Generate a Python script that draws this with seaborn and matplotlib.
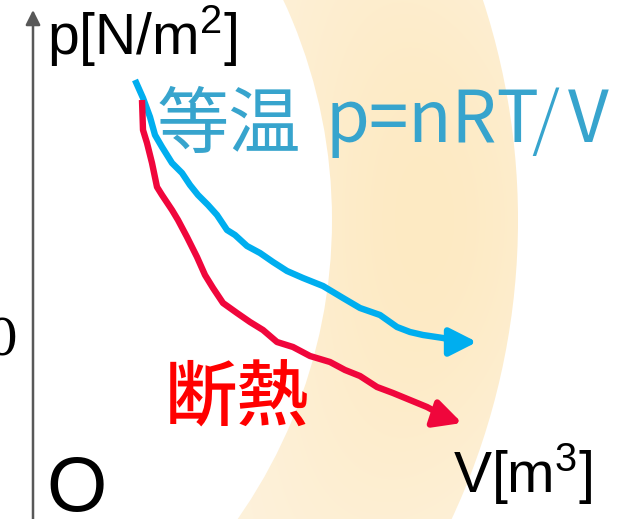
import numpy as np
import pandas as pd
import matplotlib
matplotlib.use("Agg")
import matplotlib.pyplot as plt
from matplotlib.patches import Annulus
import seaborn as sns

# Isothermal expansion path (volume, pressure), arbitrary units
iso_V = [1.02, 1.10, 1.17, 1.22, 1.29, 1.39, 1.49, 1.57, 1.65, 1.75, 1.84, 1.94, 2.02,
         2.14, 2.27, 2.40, 2.54, 2.70, 2.90, 3.10, 3.27, 3.47, 3.64, 3.77, 3.90, 4.10, 4.27]
iso_p = [4.37, 4.19, 4.00, 3.82, 3.70, 3.54, 3.44, 3.32, 3.22, 3.12, 3.02, 2.87, 2.82,
         2.71, 2.64, 2.55, 2.46, 2.39, 2.31, 2.19, 2.09, 2.02, 1.90, 1.85, 1.82, 1.79, 1.75]
iso_tip = (4.44, 1.75)

# Adiabatic expansion path
adi_V = [1.09, 1.10, 1.14, 1.19, 1.24, 1.29, 1.39, 1.45, 1.54, 1.59, 1.64, 1.72, 1.80,
         1.90, 2.04, 2.17, 2.30, 2.44, 2.60, 2.77, 2.97, 3.12, 3.27, 3.44, 3.60, 3.77,
         3.94, 4.07, 4.17]
adi_p = [4.17, 3.87, 3.74, 3.54, 3.30, 3.22, 3.07, 2.97, 2.80, 2.70, 2.60, 2.42, 2.29,
         2.14, 2.04, 1.95, 1.87, 1.75, 1.70, 1.61, 1.55, 1.47, 1.41, 1.30, 1.24, 1.17,
         1.10, 1.03, 0.98]
adi_tip = (4.29, 0.94)

p_axis_label = "p[N/m$^{2}$]"
V_axis_label = "V[m$^{3}$]"
origin_label = "O"
iso_name = "等温"
iso_formula = ["p=nRT", "/", "V"]
adi_name = "断熱"
side_tick = "0"

ISO_LINE = "#00AEEF"
ISO_TEXT = "#37A4CD"
ADI_LINE = "#F0063C"
ADI_TEXT = "#FF0000"
AXIS_C = "#585858"
CJK = ["Noto Sans CJK JP", "DejaVu Sans"]

sns.set_theme(style="white")
plt.rcParams["font.family"] = ["Liberation Sans", "Noto Sans CJK JP", "DejaVu Sans"]
plt.rcParams["mathtext.fontset"] = "custom"
plt.rcParams["mathtext.rm"] = "Liberation Sans"
plt.rcParams["mathtext.it"] = "Liberation Sans"

fig = plt.figure(figsize=(6.35, 5.19), dpi=100)
ax = fig.add_axes([0, 0, 1, 1])
XL, YL = (-0.33, 6.02), (-0.02, 5.17)
ax.set_axis_off()

# soft warm band behind the curves, shaded by a radial gradient
cx, cy = -2.22, 2.97
r_in, r_out = 5.21, 7.07
gx, gy = np.meshgrid(np.linspace(*XL, 400), np.linspace(*YL, 330))
rr = np.hypot(gx - cx, gy - cy)
ang = np.arctan2(gy - cy, gx - cx)
t = np.exp(-((rr - (r_in + r_out) / 2) / 1.7) ** 2 - (ang / 0.6) ** 2)
edge = np.array([254, 244, 228]) / 255
core = np.array([253, 234, 195]) / 255
img = edge[None, None, :] * (1 - t[..., None]) + core[None, None, :] * t[..., None]
im = ax.imshow(img, extent=(*XL, *YL), origin="lower",
               aspect="auto", zorder=0, interpolation="bilinear")
band = Annulus((cx, cy), r_out, r_out - r_in, transform=ax.transData,
               facecolor="none", edgecolor="none")
ax.add_patch(band)
im.set_clip_path(band)

# coordinate axes with arrow heads
ax.annotate("", xy=(0, 5.07), xytext=(0, -0.05),
            arrowprops=dict(arrowstyle="-|>", color=AXIS_C, lw=1.8,
                            mutation_scale=22, shrinkA=0, shrinkB=0), zorder=3)
ax.annotate("", xy=(6.05, 0), xytext=(-0.4, 0),
            arrowprops=dict(arrowstyle="-|>", color=AXIS_C, lw=1.8,
                            mutation_scale=22, shrinkA=0, shrinkB=0), zorder=3)

iso = pd.DataFrame({"V": iso_V, "p": iso_p})
adi = pd.DataFrame({"V": adi_V, "p": adi_p})
sns.lineplot(data=iso, x="V", y="p", sort=False, color=ISO_LINE, lw=4.6,
             ax=ax, zorder=4, solid_joinstyle="round", solid_capstyle="butt")
sns.lineplot(data=adi, x="V", y="p", sort=False, color=ADI_LINE, lw=4.6,
             ax=ax, zorder=5, solid_joinstyle="round", solid_capstyle="butt")
head = "-|>,head_length=0.75,head_width=0.38"
ax.annotate("", xy=iso_tip, xytext=(iso_V[-1], iso_p[-1]),
            arrowprops=dict(arrowstyle=head, color=ISO_LINE, lw=4.6,
                            mutation_scale=22, shrinkA=0, shrinkB=0), zorder=4)
ax.annotate("", xy=adi_tip, xytext=(adi_V[-1], adi_p[-1]),
            arrowprops=dict(arrowstyle=head, color=ADI_LINE, lw=4.6,
                            mutation_scale=22, shrinkA=0, shrinkB=0), zorder=5)
ax.set_xlim(*XL)
ax.set_ylim(*YL)
ax.set_xlabel("")
ax.set_ylabel("")

# labels
ax.text(0.14, 4.62, p_axis_label, fontsize=41, color="black",
        ha="left", va="baseline", zorder=6)
ax.text(4.20, 0.24, V_axis_label, fontsize=41, color="black",
        ha="left", va="baseline", zorder=6)
ax.text(0.135, 0.055, origin_label, fontsize=56, color="black",
        ha="left", va="baseline", zorder=6)
ax.text(1.24, 3.70, iso_name, fontsize=52, color=ISO_TEXT, family=CJK,
        ha="left", va="baseline", zorder=6)
ax.text(2.93, 3.75, iso_formula[0], fontsize=51, color=ISO_TEXT, family=CJK,
        ha="left", va="baseline", zorder=6)
ax.text(5.12, 3.745, iso_formula[1], fontsize=51, color=ISO_TEXT, family=CJK,
        fontweight="light", ha="center", va="baseline", zorder=6)
ax.text(5.35, 3.75, iso_formula[2], fontsize=51, color=ISO_TEXT, family=CJK,
        ha="left", va="baseline", zorder=6)
ax.text(1.32, 1.17, adi_name, fontsize=52, color=ADI_TEXT, family=CJK,
        fontweight="medium", ha="left", va="center", zorder=6)
ax.text(-0.145, 1.75, side_tick, fontsize=37, color="black", family="DejaVu Serif",
        ha="right", va="center", zorder=6)

fig.savefig("out.png", dpi=100)
